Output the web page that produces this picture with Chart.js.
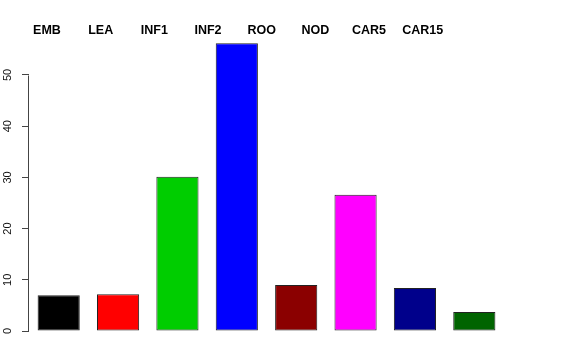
<!DOCTYPE html>
<html>
<head>
<meta charset="utf-8">
<script src="https://cdn.jsdelivr.net/npm/chart.js@4"></script>
<style>
html,body{margin:0;padding:0;background:#fff;}
canvas{display:block;}
</style>
</head>
<body>
<canvas id="c" width="576" height="360"></canvas>
<script>
const categories = ['EMB','LEA','INF1','INF2','ROO','NOD','CAR5','CAR15'];
const values = [7.0, 7.2, 30.1, 56.2, 9.0, 26.6, 8.4, 3.7];
const barColors = ['#000000','#FF0000','#00CD00','#0000FF','#8B0000','#FF00FF','#00008B','#006400'];
const yTicks = [0, 10, 20, 30, 40, 50];

const topLabels = {
  id: 'topLabels',
  afterDraw(chart) {
    const ctx = chart.ctx;
    const a = chart.chartArea;
    ctx.save();
    ctx.font = 'bold 12.5px "Liberation Sans", Arial, sans-serif';
    ctx.fillStyle = '#000';
    ctx.textAlign = 'center';
    ctx.textBaseline = 'alphabetic';
    const step = (a.right - a.left) / categories.length * 0.904;
    categories.forEach((c, i) => {
      ctx.fillText(c, a.left + 18 + i * step, 34);
    });
    ctx.restore();
  }
};

const axisLine = {
  id: 'axisLine',
  afterDraw(chart) {
    const y = chart.scales.y;
    const ctx = chart.ctx;
    ctx.save();
    ctx.strokeStyle = '#444';
    ctx.lineWidth = 1;
    const x = Math.round(y.right) - 0.5;
    ctx.beginPath();
    ctx.moveTo(x, Math.round(y.getPixelForValue(yTicks[0])) + 0.5);
    ctx.lineTo(x, Math.round(y.getPixelForValue(yTicks[yTicks.length - 1])) + 0.5);
    ctx.stroke();
    ctx.restore();
  }
};

new Chart(document.getElementById('c'), {
  type: 'bar',
  data: {
    labels: categories,
    datasets: [{
      data: values,
      backgroundColor: barColors,
      borderColor: '#222',
      borderWidth: 1,
      borderSkipped: false,
      barPercentage: 0.71,
      categoryPercentage: 1.0
    }]
  },
  options: {
    responsive: false,
    animation: false,
    layout: { padding: { top: 34, bottom: 29, left: 0, right: 72 } },
    plugins: { legend: { display: false }, tooltip: { enabled: false } },
    scales: {
      x: { display: false },
      y: {
        min: 0,
        max: 58,
        afterBuildTicks: s => { s.ticks = yTicks.map(v => ({ value: v })); },
        afterFit: s => { s.width = 29; },
        border: { display: false },
        grid: { drawOnChartArea: false, drawTicks: true, tickLength: 7, color: '#444', lineWidth: 1 },
        ticks: {
          minRotation: 90,
          maxRotation: 90,
          crossAlign: 'center',
          padding: 8,
          color: '#111',
          font: { family: '"Liberation Sans", Arial, sans-serif', size: 11 }
        }
      }
    }
  },
  plugins: [topLabels, axisLine]
});
</script>
</body>
</html>
